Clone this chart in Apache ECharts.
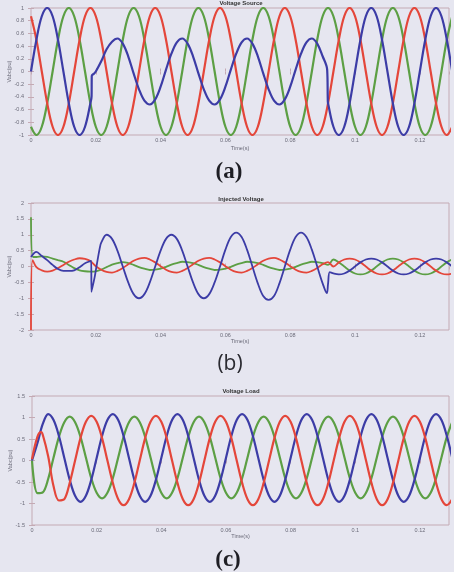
<!DOCTYPE html>
<html><head><meta charset="utf-8">
<script src="https://cdn.jsdelivr.net/npm/echarts@6/dist/echarts.min.js"></script>
<style>html,body{margin:0;padding:0;background:#e6e6f0;}#c{width:454px;height:572px;}</style>
</head><body><div id="c"></div>
<script>
// sample times in ms (30 degree steps of a 50 Hz wave)
const T = [0,1.67,3.33,5,6.67,8.33,10,11.67,13.33,15,16.67,18.33,
20,21.67,23.33,25,26.67,28.33,30,31.67,33.33,35,36.67,38.33,
40,41.67,43.33,45,46.67,48.33,50,51.67,53.33,55,56.67,58.33,
60,61.67,63.33,65,66.67,68.33,70,71.67,73.33,75,76.67,78.33,
80,81.67,83.33,85,86.67,88.33,90,91.67,93.33,95,96.67,98.33,
100,101.67,103.33,105,106.67,108.33,110,111.67,113.33,115,116.67,118.33,
120,121.67,123.33,125,126.67,128.33,130];

const xTickLabels = ['0','0.02','0.04','0.06','0.08','0.1','0.12'];

// (a) Voltage Source
const srcRed = [.87,.5,0,-.5,-.87,-1,-.87,-.5,0,.5,.87,1,
.87,.5,0,-.5,-.87,-1,-.87,-.5,0,.5,.87,1,
.87,.5,0,-.5,-.87,-1,-.87,-.5,0,.5,.87,1,
.87,.5,0,-.5,-.87,-1,-.87,-.5,0,.5,.87,1,
.87,.5,0,-.5,-.87,-1,-.87,-.5,0,.5,.87,1,
.87,.5,0,-.5,-.87,-1,-.87,-.5,0,.5,.87,1,
.87,.5,0,-.5,-.87,-1,-.87];
const srcGreen = [-.87,-1,-.87,-.5,0,.5,.87,1,.87,.5,0,-.5,
-.87,-1,-.87,-.5,0,.5,.87,1,.87,.5,0,-.5,
-.87,-1,-.87,-.5,0,.5,.87,1,.87,.5,0,-.5,
-.87,-1,-.87,-.5,0,.5,.87,1,.87,.5,0,-.5,
-.87,-1,-.87,-.5,0,.5,.87,1,.87,.5,0,-.5,
-.87,-1,-.87,-.5,0,.5,.87,1,.87,.5,0,-.5,
-.87,-1,-.87,-.5,0,.5,.87];
const srcBlue = [0,.5,.87,1,.87,.5,0,-.5,-.87,-1,-.87,-.5,
0,.16,.35,.47,.52,.44,.24,-.03,-.28,-.46,-.52,-.44,
-.24,.03,.28,.46,.52,.44,.24,-.03,-.28,-.46,-.52,-.44,
-.24,.03,.28,.46,.52,.44,.24,-.03,-.28,-.46,-.52,-.44,
-.24,.03,.28,.46,.52,.44,.24,-.5,-.87,-1,-.87,-.5,
0,.5,.87,1,.87,.5,0,-.5,-.87,-1,-.87,-.5,
0,.5,.87,1,.87,.5,0];
const srcBlueExtra = [[18.7,-.39],[18.75,-.07],[19.5,-.03],[91.4,.03],[91.6,-.47]];

// (b) Injected Voltage
const injBlue = [.3,.46,.33,.2,.05,-.08,-.14,-.14,-.12,-.02,.1,.17,
-.12,.75,1,.87,.5,0,-.5,-.87,-1,-.87,-.5,0,
.5,.87,1,.87,.5,0,-.5,-.87,-1,-.87,-.5,0,
.53,.93,1.07,.93,.53,0,-.53,-.93,-1.05,-.93,-.53,0,
.53,.93,1.07,.93,.53,0,-.53,-.55,-.22,-.25,-.22,-.13,
0,.13,.22,.25,.22,.13,0,-.13,-.22,-.25,-.22,-.13,
0,.13,.22,.25,.22,.13,0];
const injBlueExtra = [[18.6,.18],[18.65,-.8],[19.6,-.36],[21.2,.57],[91.3,-.84],[92.2,-.18]];
const injRed = [-2,-.02,-.12,-.16,-.13,-.05,.05,.15,.22,.26,.24,.17,
.01,-.1,-.17,-.19,-.14,-.05,.07,.18,.25,.27,.22,.13,
.01,-.1,-.17,-.19,-.14,-.05,.07,.18,.25,.27,.22,.13,
.01,-.1,-.17,-.19,-.14,-.05,.07,.18,.25,.27,.22,.13,
.01,-.1,-.17,-.19,-.14,-.05,.07,.14,0,.13,.22,.25,
.22,.13,0,-.13,-.22,-.25,-.22,-.13,0,.13,.22,.25,
.22,.13,0,-.13,-.22,-.25,-.22];
const injRedExtra = [[0.5,.2]];
const injGreen = [1.55,.3,.32,.3,.25,.2,.15,.05,-.05,-.12,-.15,-.16,
-.15,-.1,-.02,.06,.11,.14,.11,.05,-.02,-.07,-.11,-.1,
-.07,-.01,.06,.11,.15,.14,.11,.05,-.02,-.07,-.11,-.1,
-.07,-.01,.06,.11,.15,.14,.11,.05,-.02,-.07,-.11,-.1,
-.07,-.01,.06,.11,.15,.14,.11,.05,.22,.13,0,-.13,
-.22,-.25,-.22,-.13,0,.13,.22,.25,.22,.13,0,-.13,
-.22,-.25,-.22,-.13,0,.13,.22];
const injGreenExtra = [[0.6,.3]];

// (c) Voltage Load
const ldBlue = [0,.4,.85,1.08,.94,.57,.06,-.45,-.82,-.96,-.82,-.45,
.06,.57,.94,1.08,.94,.57,.06,-.45,-.82,-.96,-.82,-.45,
.06,.57,.94,1.08,.94,.57,.06,-.45,-.82,-.96,-.82,-.45,
.06,.57,.94,1.08,.94,.57,.06,-.45,-.82,-.96,-.82,-.45,
.06,.57,.94,1.08,.94,.57,.06,-.45,-.82,-.96,-.82,-.45,
.06,.57,.94,1.08,.94,.57,.06,-.45,-.82,-.96,-.82,-.45,
.06,.57,.94,1.08,.94,.57,.06];
const ldRed = [.03,.55,.6,.1,-.6,-.93,-.9,-.52,0,.52,.9,1.04,
.9,.52,0,-.52,-.9,-1.04,-.9,-.52,0,.52,.9,1.04,
.9,.52,0,-.52,-.9,-1.04,-.9,-.52,0,.52,.9,1.04,
.9,.52,0,-.52,-.9,-1.04,-.9,-.52,0,.52,.9,1.04,
.9,.52,0,-.52,-.9,-1.04,-.9,-.52,0,.52,.9,1.04,
.9,.52,0,-.52,-.9,-1.04,-.9,-.52,0,.52,.9,1.04,
.9,.52,0,-.52,-.9,-1.04,-.9];
const ldRedExtra = [[2.8,.66]];
const ldGreen = [0,-.76,-.74,-.43,.07,.55,.89,1.02,.89,.55,.07,-.41,
-.75,-.88,-.75,-.41,.07,.55,.89,1.02,.89,.55,.07,-.41,
-.75,-.88,-.75,-.41,.07,.55,.89,1.02,.89,.55,.07,-.41,
-.75,-.88,-.75,-.41,.07,.55,.89,1.02,.89,.55,.07,-.41,
-.75,-.88,-.75,-.41,.07,.55,.89,1.02,.89,.55,.07,-.41,
-.75,-.88,-.75,-.41,.07,.55,.89,1.02,.89,.55,.07,-.41,
-.75,-.88,-.75,-.41,.07,.55,.89];

const titles = ['Voltage Source','Injected Voltage','Voltage Load'];
const panelTags = ['(a)','(b)','(c)'];
const yRanges = [[-1,1,0.2],[-2,2,0.5],[-1.5,1.5,0.5]];

function pts(vals, extra){
  const a = T.map((t,i)=>[t/1000, vals[i]]);
  (extra||[]).forEach(p=>a.push([p[0]/1000,p[1]]));
  a.sort((p,q)=>p[0]-q[0]);
  return a;
}

const BLUE='#3c3ca6', RED='#e4463a', GREEN='#5c9f44';
const FRAME='#c4aab4', TXT='#6a6a78';
const grids = [
  {left:31, top:8, width:418, height:127},
  {left:31, top:203, width:418, height:127},
  {left:32, top:396, width:417, height:129}
];
const nameGaps = [10, 8, 8];

const xAxis=[], yAxis=[];
grids.forEach((g,i)=>{
  xAxis.push({gridIndex:i, type:'value', min:0, max:0.129, interval:0.02, position:'bottom',
    name:'Time(s)', nameLocation:'middle', nameGap:nameGaps[i], nameMoveOverlap:false,
    nameTextStyle:{fontSize:5.5, color:TXT, fontFamily:'Liberation Sans'},
    axisLine:{show:false}, splitLine:{show:false},
    axisTick:{inside:true, length:3, lineStyle:{color:FRAME}},
    axisLabel:{fontSize:5.5, color:TXT, margin:2, fontFamily:'Liberation Sans', showMaxLabel:false,
      formatter:v=>{const k=Math.round(v/0.02); return Math.abs(v-k*0.02)<1e-6 && k<xTickLabels.length ? xTickLabels[k] : '';}}});
  xAxis.push({gridIndex:i, type:'value', min:0, max:0.129, interval:0.02, position:'top',
    axisLine:{show:false}, splitLine:{show:false}, axisLabel:{show:false},
    axisTick:{inside:true, length:3, lineStyle:{color:FRAME}}});
  const r=yRanges[i];
  yAxis.push({gridIndex:i, type:'value', min:r[0], max:r[1], interval:r[2], position:'left',
    name:'Vabc(pu)', nameLocation:'middle', nameGap:19, nameRotate:90, nameMoveOverlap:false,
    nameTextStyle:{fontSize:5.5, color:TXT, fontFamily:'Liberation Sans'},
    axisLine:{show:false}, splitLine:{show:false},
    axisTick:{inside:true, length:3, lineStyle:{color:FRAME}},
    axisLabel:{fontSize:5.5, color:TXT, margin:7, fontFamily:'Liberation Sans'}});
  yAxis.push({gridIndex:i, type:'value', min:r[0], max:r[1], interval:r[2], position:'right',
    axisLine:{show:false}, splitLine:{show:false}, axisLabel:{show:false},
    axisTick:{inside:true, length:3, lineStyle:{color:FRAME}}});
});

function line(gi, data, color, w){
  return {type:'line', xAxisIndex:gi*2, yAxisIndex:gi*2, data:data, showSymbol:false,
    smooth:0.35, silent:true, lineStyle:{color:color, width:w}, itemStyle:{color:color}};
}
const series = [
  line(0, pts(srcGreen), GREEN, 2.2),
  line(0, pts(srcRed), RED, 2.2),
  line(0, pts(srcBlue, srcBlueExtra), BLUE, 2.2),
  line(1, pts(injGreen, injGreenExtra), GREEN, 1.8),
  line(1, pts(injRed, injRedExtra), RED, 1.8),
  line(1, pts(injBlue, injBlueExtra), BLUE, 1.8),
  line(2, pts(ldGreen), GREEN, 2.2),
  line(2, pts(ldBlue), BLUE, 2.2),
  line(2, pts(ldRed, ldRedExtra), RED, 2.2)
];

const titleY=[3,199,391], tagY=[172,364,560];
const graphic=[];
titles.forEach((t,i)=>graphic.push({type:'text', x:241, y:titleY[i], style:{text:t, textAlign:'center', textVerticalAlign:'middle', font:'bold 6px "Liberation Sans"', fill:'#333'}}));
graphic.push({type:'text', x:229, y:tagY[0], style:{text:panelTags[0], textAlign:'center', textVerticalAlign:'middle', font:'bold 23px "Liberation Serif"', fill:'#1e1e24'}});
graphic.push({type:'text', x:230, y:tagY[1], style:{text:panelTags[1], textAlign:'center', textVerticalAlign:'middle', font:'21px "Open Sans"', fill:'#2a2a30'}});
graphic.push({type:'text', x:228, y:tagY[2], style:{text:panelTags[2], textAlign:'center', textVerticalAlign:'middle', font:'bold 23px "Liberation Serif"', fill:'#1e1e24'}});

const chart = echarts.init(document.getElementById('c'), null, {renderer:'canvas'});
chart.setOption({
  animation:false,
  backgroundColor:'#e6e6f0',
  grid: grids.map(g=>Object.assign({show:true, borderColor:FRAME, borderWidth:1, backgroundColor:'transparent', containLabel:false, outerBoundsMode:'none'}, g)),
  xAxis:xAxis, yAxis:yAxis, series:series, graphic:graphic
});
</script></body></html>
